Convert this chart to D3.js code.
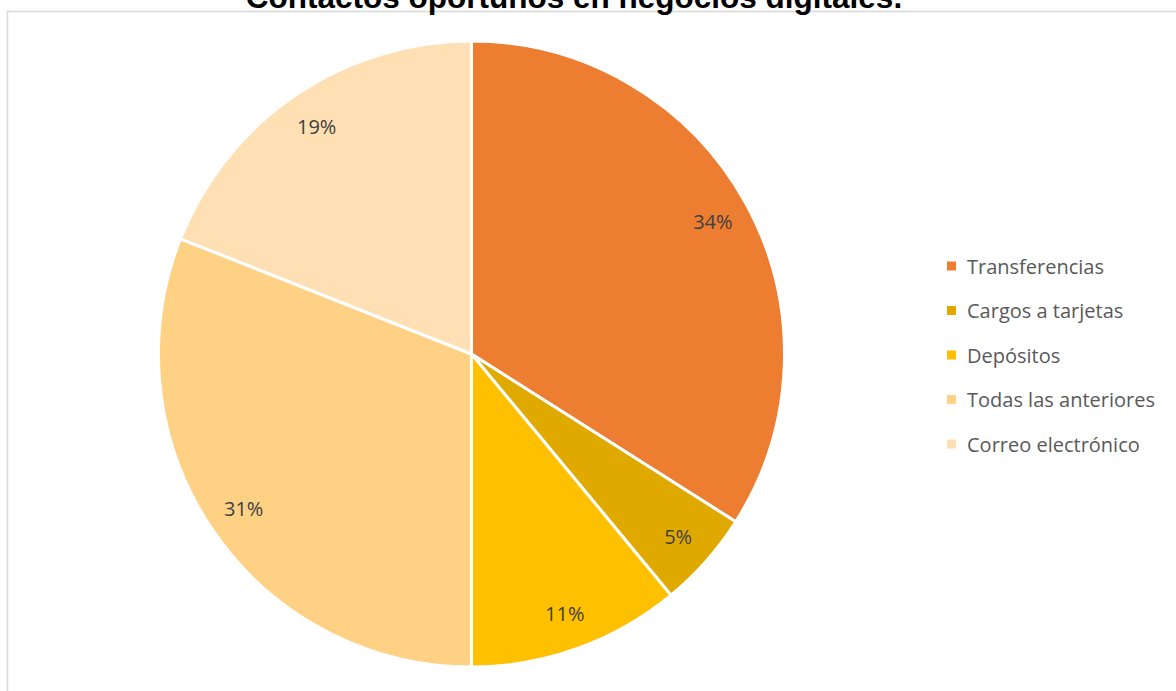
<!DOCTYPE html>
<html>
<head>
<meta charset="utf-8">
<script src="https://cdn.jsdelivr.net/npm/d3@7"></script>
<style>
  html, body { margin: 0; padding: 0; background: #fff; }
  svg { display: block; }
</style>
</head>
<body>
<svg id="chart" width="1176" height="691"></svg>
<script>
// Chart data
const title = "Contactos oportunos en negocios digitales.";
const categories = ["Transferencias", "Cargos a tarjetas", "Depósitos", "Todas las anteriores", "Correo electrónico"];
const values = [34, 5, 11, 31, 19];
const colors = ["#ED7D31", "#E0A900", "#FFC000", "#FFD185", "#FFE0B5"];

const svg = d3.select("#chart");
const W = 1176, H = 691;

// Chart area frame
svg.append("rect")
  .attr("x", 7.5).attr("y", 11.5)
  .attr("width", W + 10).attr("height", H + 10)
  .attr("fill", "#fff")
  .attr("stroke", "#d9d9d9")
  .attr("stroke-width", 1.5);

// Title
svg.append("text")
  .attr("x", 574).attr("y", 8)
  .attr("text-anchor", "middle")
  .attr("font-family", "Liberation Sans, Arial, sans-serif")
  .attr("font-weight", "bold")
  .attr("font-size", 31.5)
  .attr("fill", "#000")
  .text(title);

// Pie
const cx = 471.5, cy = 354, R = 313;
const data = categories.map((c, i) => ({ name: c, value: values[i], color: colors[i] }));
const pie = d3.pie().value(d => d.value).sort(null);
const arcs = pie(data);
const arc = d3.arc().innerRadius(0).outerRadius(R);
const labelArc = d3.arc().innerRadius(R * 0.88).outerRadius(R * 0.88);

const g = svg.append("g").attr("transform", `translate(${cx},${cy})`);
g.selectAll("path.slice")
  .data(arcs)
  .join("path")
  .attr("class", "slice")
  .attr("d", arc)
  .attr("fill", d => d.data.color)
  .attr("stroke", "#fff")
  .attr("stroke-width", 3)
  .attr("stroke-linejoin", "round");

g.selectAll("text.lbl")
  .data(arcs)
  .join("text")
  .attr("class", "lbl")
  .attr("transform", d => `translate(${labelArc.centroid(d)})`)
  .attr("text-anchor", "middle")
  .attr("dominant-baseline", "central")
  .attr("font-family", "Open Sans, Liberation Sans, sans-serif")
  .attr("font-size", 20)
  .attr("fill", "#404040")
  .text(d => d.data.value + "%");

// Legend
const legend = svg.append("g").attr("transform", "translate(947,266)");
const rowH = 44.5;
const items = legend.selectAll("g.item")
  .data(data)
  .join("g")
  .attr("class", "item")
  .attr("transform", (d, i) => `translate(0,${i * rowH})`);
items.append("rect")
  .attr("x", 0).attr("y", -4.5)
  .attr("width", 9).attr("height", 9)
  .attr("fill", d => d.color);
items.append("text")
  .attr("x", 20).attr("y", 0)
  .attr("dominant-baseline", "central")
  .attr("font-family", "Open Sans, Liberation Sans, sans-serif")
  .attr("font-size", 20)
  .attr("fill", "#595959")
  .text(d => d.name);
</script>
</body>
</html>
